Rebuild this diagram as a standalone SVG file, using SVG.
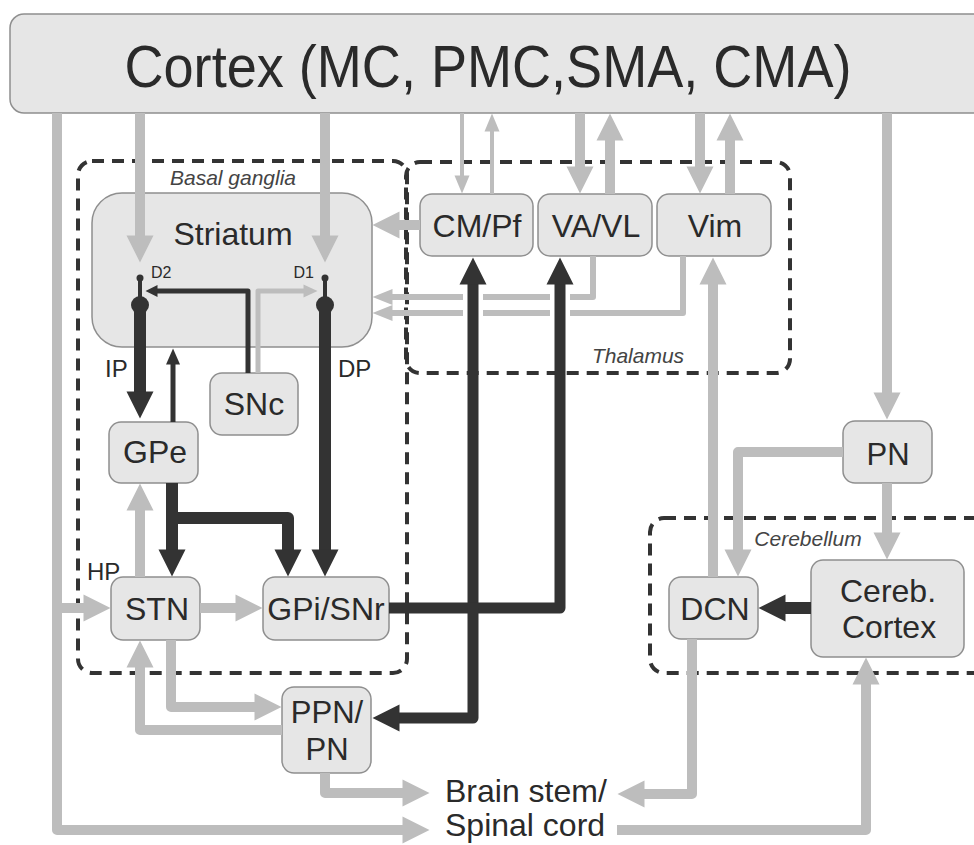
<svg xmlns="http://www.w3.org/2000/svg" width="974" height="845" viewBox="0 0 974 845">
<style>
.box{fill:#e6e6e6;stroke:#8f8f8f;stroke-width:1.5}
.dash{fill:none;stroke:#333;stroke-width:4;stroke-dasharray:12 8}
.t{font-family:"Liberation Sans",Arial,sans-serif;fill:#2a2a2a;text-anchor:middle}
.lab{font-family:"Liberation Sans",Arial,sans-serif;fill:#2a2a2a}
.it{font-family:"Liberation Sans",Arial,sans-serif;font-style:italic;font-size:21px;fill:#444;text-anchor:middle}
.g{fill:none;stroke:#bdbdbd;stroke-width:10;stroke-linejoin:round}
.g6{fill:none;stroke:#bdbdbd;stroke-width:6;stroke-linejoin:round}
.g4{fill:none;stroke:#bdbdbd;stroke-width:4}
.d{fill:none;stroke:#333;stroke-width:12;stroke-linejoin:round}
.d5{fill:none;stroke:#333;stroke-width:5;stroke-linejoin:round}
.halo{fill:none;stroke:#fff;stroke-width:20}
</style>
<defs>
<marker id="gB" markerUnits="userSpaceOnUse" markerWidth="28" markerHeight="28" refX="0.5" refY="13.5" orient="auto" overflow="visible"><path d="M0,0 L27,13.5 L0,27 z" fill="#bdbdbd"/></marker>
<marker id="gM" markerUnits="userSpaceOnUse" markerWidth="21" markerHeight="17" refX="0.5" refY="8" orient="auto" overflow="visible"><path d="M0,0 L20,8 L0,16 z" fill="#bdbdbd"/></marker>
<marker id="gS" markerUnits="userSpaceOnUse" markerWidth="19" markerHeight="16" refX="0.5" refY="7.5" orient="auto" overflow="visible"><path d="M0,0 L18,7.5 L0,15 z" fill="#bdbdbd"/></marker>
<marker id="gT" markerUnits="userSpaceOnUse" markerWidth="15" markerHeight="13" refX="0.5" refY="6.5" orient="auto" overflow="visible"><path d="M0,0 L14,6.5 L0,13 z" fill="#bdbdbd"/></marker>
<marker id="dB" markerUnits="userSpaceOnUse" markerWidth="28" markerHeight="28" refX="0.5" refY="13.5" orient="auto" overflow="visible"><path d="M0,0 L27,13.5 L0,27 z" fill="#333"/></marker>
<marker id="dS" markerUnits="userSpaceOnUse" markerWidth="17" markerHeight="15" refX="0.5" refY="7" orient="auto" overflow="visible"><path d="M0,0 L16,7 L0,14 z" fill="#333"/></marker>
<marker id="dT" markerUnits="userSpaceOnUse" markerWidth="13" markerHeight="13" refX="0.5" refY="6" orient="auto" overflow="visible"><path d="M0,0 L12,6 L0,12 z" fill="#333"/></marker>
</defs>
<rect width="974" height="845" fill="#fff"/>

<g id="regions">
<rect class="dash" x="78" y="161" width="329" height="512" rx="14"/>
<rect class="dash" x="406" y="162" width="384" height="211" rx="14"/>
<rect class="dash" x="650" y="518" width="400" height="155" rx="14"/>
<text class="it" x="233" y="185">Basal ganglia</text>
<text class="it" x="638" y="363">Thalamus</text>
<text class="it" x="808" y="546">Cerebellum</text>
</g>

<g id="cortex"><rect class="box" x="10" y="14" width="1000" height="99" rx="14"/><text class="t" x="488" y="87" font-size="60" textLength="727" lengthAdjust="spacingAndGlyphs">Cortex (MC, PMC,SMA, CMA)</text></g>
<g id="striatum"><rect class="box" x="92" y="193" width="280" height="154" rx="30"/><text class="t" x="233" y="245" font-size="32">Striatum</text>
<text class="lab" x="151" y="278" font-size="16">D2</text><text class="lab" x="314" y="278" font-size="16" text-anchor="end">D1</text></g>
<g id="cmpf"><rect class="box" x="420" y="194" width="113" height="62" rx="12"/><text class="t" x="477" y="237" font-size="32">CM/Pf</text></g>
<g id="vavl"><rect class="box" x="538" y="194" width="114" height="62" rx="12"/><text class="t" x="596" y="237" font-size="32">VA/VL</text></g>
<g id="vim"><rect class="box" x="657" y="194" width="114" height="62" rx="12"/><text class="t" x="715" y="237" font-size="32">Vim</text></g>
<g id="snc"><rect class="box" x="210" y="373" width="88" height="62" rx="12"/><text class="t" x="254" y="415" font-size="32">SNc</text></g>
<g id="gpe"><rect class="box" x="109" y="422" width="89" height="61" rx="12"/><text class="t" x="155" y="463" font-size="32">GPe</text></g>
<g id="stn"><rect class="box" x="111" y="577" width="89" height="63" rx="12"/><text class="t" x="157" y="620" font-size="32">STN</text></g>
<g id="gpisnr"><rect class="box" x="263" y="577" width="126" height="63" rx="12"/><text class="t" x="326" y="620" font-size="32">GPi/SNr</text></g>
<g id="ppn"><rect class="box" x="282" y="687" width="89" height="86" rx="12"/><text class="t" x="327" y="723" font-size="31">PPN/</text><text class="t" x="327" y="760" font-size="31">PN</text></g>
<g id="pn"><rect class="box" x="843" y="421" width="89" height="62" rx="12"/><text class="t" x="888" y="465" font-size="31">PN</text></g>
<g id="dcn"><rect class="box" x="669" y="577" width="89" height="62" rx="12"/><text class="t" x="715" y="620" font-size="32">DCN</text></g>
<g id="cerebcortex"><rect class="box" x="811" y="560" width="153" height="97" rx="12"/><text class="t" x="888" y="602" font-size="32">Cereb.</text><text class="t" x="889" y="638" font-size="32">Cortex</text></g>
<g id="brainstem"><text class="lab" x="445" y="802" font-size="32">Brain stem/</text><text class="lab" x="445" y="836" font-size="32">Spinal cord</text></g>
<g id="pathlabels"><text class="lab" x="105" y="377" font-size="24">IP</text><text class="lab" x="338" y="377" font-size="24">DP</text><text class="lab" x="87" y="580" font-size="24">HP</text></g>

<g id="connectors">
<path class="g" d="M140,113 V236" marker-end="url(#gB)"/>
<path class="g" d="M325,113 V236" marker-end="url(#gB)"/>
<path class="g4" d="M462,113 V176" marker-end="url(#gS)"/>
<path class="g4" d="M492,194 V131" marker-end="url(#gS)"/>
<path class="g" d="M580,113 V167" marker-end="url(#gB)"/>
<path class="g" d="M610,194 V140" marker-end="url(#gB)"/>
<path class="g" d="M700,113 V167" marker-end="url(#gB)"/>
<path class="g" d="M730,194 V140" marker-end="url(#gB)"/>
<path class="g" d="M887,113 V393" marker-end="url(#gB)"/>
<path class="g" d="M420,225 H399" marker-end="url(#gB)"/>
<path class="g6" d="M593,256 V297 H392" marker-end="url(#gM)"/>
<path class="g6" d="M683,256 V313 H392" marker-end="url(#gM)"/>
<path class="g" d="M57,113 V830 H403" marker-end="url(#gB)"/>
<path class="g" d="M57,608 H84" marker-end="url(#gB)"/>
<path class="g" d="M140,577 V510" marker-end="url(#gB)"/>
<path class="g" d="M200,608 H236" marker-end="url(#gB)"/>
<path class="g" d="M282,730 H140 V667" marker-end="url(#gB)"/>
<path class="g" d="M171,640 V707 H255" marker-end="url(#gB)"/>
<path class="g" d="M325,773 V793 H403" marker-end="url(#gB)"/>
<path class="g" d="M692,639 V794 H644" marker-end="url(#gB)"/>
<path class="g" d="M617,830 H866 V684" marker-end="url(#gB)"/>
<path class="g" d="M843,452 H738 V550" marker-end="url(#gB)"/>
<path class="g" d="M887,483 V533" marker-end="url(#gB)"/>
<path class="g" d="M713,577 V284" marker-end="url(#gB)"/>
<path class="d5" style="stroke:#bdbdbd" d="M258,373 V291 H304" marker-end="url(#gT)"/>

<path class="halo" d="M473,288 V322 M560,288 V322"/>

<path class="d5" d="M248,373 V291 H157" marker-end="url(#dT)"/>
<path class="d5" d="M173,422 V364" marker-end="url(#dS)"/>
<line x1="140" y1="278" x2="140" y2="305" stroke="#333" stroke-width="4"/>
<circle cx="140" cy="278" r="3.5" fill="#333"/>
<circle cx="140" cy="305" r="9" fill="#333"/>
<path class="d" d="M140,305 V392" marker-end="url(#dB)"/>
<line x1="325" y1="278" x2="325" y2="305" stroke="#333" stroke-width="4"/>
<circle cx="325" cy="278" r="3.5" fill="#333"/>
<circle cx="325" cy="305" r="9" fill="#333"/>
<path class="d" d="M325,305 V550" marker-end="url(#dB)"/>
<path class="d" d="M172,483 V550" marker-end="url(#dB)"/>
<path class="d" d="M172,518 H288 V550" marker-end="url(#dB)"/>
<path class="d" style="stroke-width:11" d="M473,608 V284" marker-end="url(#dB)"/>
<path class="d" style="stroke-width:11" d="M389,608 H560 V284" marker-end="url(#dB)"/>
<path class="d" style="stroke-width:11" d="M473,608 V718 H399" marker-end="url(#dB)"/>
<path class="d" d="M811,608 H785" marker-end="url(#dB)"/>
</g>
</svg>
